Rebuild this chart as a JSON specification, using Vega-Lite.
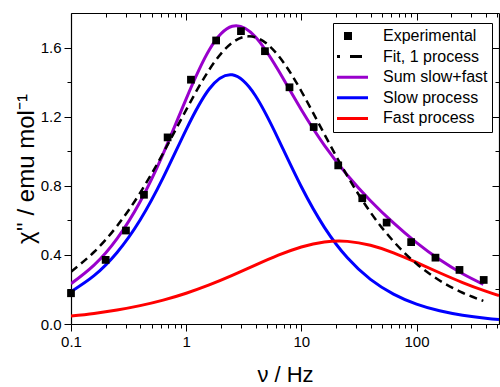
{
  "$schema": "https://vega.github.io/schema/vega-lite/v6.json",
  "width": 428,
  "height": 311,
  "autosize": {"type": "none"},
  "padding": {"left": 71, "top": 13, "right": 1, "bottom": 63},
  "background": "white",
  "config": {
    "view": {"stroke": null},
    "font": "Liberation Sans",
    "axis": {
      "domainColor": "black", "domainWidth": 1.2, "tickColor": "black", "tickWidth": 1,
      "labelColor": "black", "labelFont": "Liberation Sans", "labelFontSize": 15,
      "titleColor": "black", "titleFont": "Liberation Sans", "titleFontSize": 22, "titleFontWeight": "normal",
      "grid": false, "labelFlush": false, "labelOverlap": false
    }
  },
  "datasets": {
    "exp": [
      {"f": 0.1, "chi": 0.178, "series": "Experimental"},
      {"f": 0.2, "chi": 0.371, "series": "Experimental"},
      {"f": 0.3, "chi": 0.541, "series": "Experimental"},
      {"f": 0.43, "chi": 0.748, "series": "Experimental"},
      {"f": 0.69, "chi": 1.08, "series": "Experimental"},
      {"f": 1.1, "chi": 1.414, "series": "Experimental"},
      {"f": 1.82, "chi": 1.641, "series": "Experimental"},
      {"f": 2.99, "chi": 1.695, "series": "Experimental"},
      {"f": 4.83, "chi": 1.579, "series": "Experimental"},
      {"f": 7.89, "chi": 1.37, "series": "Experimental"},
      {"f": 12.8, "chi": 1.14, "series": "Experimental"},
      {"f": 20.9, "chi": 0.918, "series": "Experimental"},
      {"f": 33.8, "chi": 0.728, "series": "Experimental"},
      {"f": 55, "chi": 0.587, "series": "Experimental"},
      {"f": 89.8, "chi": 0.474, "series": "Experimental"},
      {"f": 146, "chi": 0.384, "series": "Experimental"},
      {"f": 236, "chi": 0.313, "series": "Experimental"},
      {"f": 383, "chi": 0.255, "series": "Experimental"}
    ],
    "fit": [
      {"f": 0.1, "chi": 0.3024, "series": "Fit, 1 process"},
      {"f": 0.1585, "chi": 0.4166, "series": "Fit, 1 process"},
      {"f": 0.2512, "chi": 0.5674, "series": "Fit, 1 process"},
      {"f": 0.3981, "chi": 0.7589, "series": "Fit, 1 process"},
      {"f": 0.631, "chi": 0.9887, "series": "Fit, 1 process"},
      {"f": 1, "chi": 1.2394, "series": "Fit, 1 process"},
      {"f": 1.585, "chi": 1.4715, "series": "Fit, 1 process"},
      {"f": 2.512, "chi": 1.6284, "series": "Fit, 1 process"},
      {"f": 3.981, "chi": 1.6594, "series": "Fit, 1 process"},
      {"f": 6.31, "chi": 1.5535, "series": "Fit, 1 process"},
      {"f": 10, "chi": 1.3471, "series": "Fit, 1 process"},
      {"f": 15.85, "chi": 1.0985, "series": "Fit, 1 process"},
      {"f": 25.12, "chi": 0.8561, "series": "Fit, 1 process"},
      {"f": 39.81, "chi": 0.6467, "series": "Fit, 1 process"},
      {"f": 63.1, "chi": 0.4782, "series": "Fit, 1 process"},
      {"f": 100, "chi": 0.3488, "series": "Fit, 1 process"},
      {"f": 158.5, "chi": 0.2519, "series": "Fit, 1 process"},
      {"f": 251.2, "chi": 0.1808, "series": "Fit, 1 process"},
      {"f": 380.2, "chi": 0.1337, "series": "Fit, 1 process"}
    ],
    "curves": [
      {"f": 0.1, "chi": 0.1871, "series": "Slow process"},
      {"f": 0.1585, "chi": 0.2796, "series": "Slow process"},
      {"f": 0.2512, "chi": 0.4137, "series": "Slow process"},
      {"f": 0.3981, "chi": 0.6015, "series": "Slow process"},
      {"f": 0.631, "chi": 0.8468, "series": "Slow process"},
      {"f": 1, "chi": 1.1251, "series": "Slow process"},
      {"f": 1.585, "chi": 1.3601, "series": "Slow process"},
      {"f": 2.512, "chi": 1.442, "series": "Slow process"},
      {"f": 3.981, "chi": 1.3223, "series": "Slow process"},
      {"f": 6.31, "chi": 1.0702, "series": "Slow process"},
      {"f": 10, "chi": 0.7942, "series": "Slow process"},
      {"f": 15.85, "chi": 0.5596, "series": "Slow process"},
      {"f": 25.12, "chi": 0.3832, "series": "Slow process"},
      {"f": 39.81, "chi": 0.2583, "series": "Slow process"},
      {"f": 63.1, "chi": 0.1731, "series": "Slow process"},
      {"f": 100, "chi": 0.1149, "series": "Slow process"},
      {"f": 158.5, "chi": 0.0762, "series": "Slow process"},
      {"f": 251.2, "chi": 0.0506, "series": "Slow process"},
      {"f": 398.1, "chi": 0.0334, "series": "Slow process"},
      {"f": 520, "chi": 0.0262, "series": "Slow process"},
      {"f": 0.1, "chi": 0.0462, "series": "Fast process"},
      {"f": 0.1585, "chi": 0.0613, "series": "Fast process"},
      {"f": 0.2512, "chi": 0.0809, "series": "Fast process"},
      {"f": 0.3981, "chi": 0.1062, "series": "Fast process"},
      {"f": 0.631, "chi": 0.1383, "series": "Fast process"},
      {"f": 1, "chi": 0.1782, "series": "Fast process"},
      {"f": 1.585, "chi": 0.2261, "series": "Fast process"},
      {"f": 2.512, "chi": 0.2812, "series": "Fast process"},
      {"f": 3.981, "chi": 0.3404, "series": "Fast process"},
      {"f": 6.31, "chi": 0.3981, "series": "Fast process"},
      {"f": 10, "chi": 0.4458, "series": "Fast process"},
      {"f": 15.85, "chi": 0.4746, "series": "Fast process"},
      {"f": 25.12, "chi": 0.4782, "series": "Fast process"},
      {"f": 39.81, "chi": 0.4555, "series": "Fast process"},
      {"f": 63.1, "chi": 0.412, "series": "Fast process"},
      {"f": 100, "chi": 0.3561, "series": "Fast process"},
      {"f": 158.5, "chi": 0.2966, "series": "Fast process"},
      {"f": 251.2, "chi": 0.24, "series": "Fast process"},
      {"f": 398.1, "chi": 0.19, "series": "Fast process"},
      {"f": 520, "chi": 0.164, "series": "Fast process"},
      {"f": 0.1, "chi": 0.2333, "series": "Sum slow+fast"},
      {"f": 0.1585, "chi": 0.3409, "series": "Sum slow+fast"},
      {"f": 0.2512, "chi": 0.4946, "series": "Sum slow+fast"},
      {"f": 0.3981, "chi": 0.7077, "series": "Sum slow+fast"},
      {"f": 0.631, "chi": 0.9851, "series": "Sum slow+fast"},
      {"f": 1, "chi": 1.3033, "series": "Sum slow+fast"},
      {"f": 1.585, "chi": 1.5862, "series": "Sum slow+fast"},
      {"f": 2.512, "chi": 1.7232, "series": "Sum slow+fast"},
      {"f": 3.981, "chi": 1.6627, "series": "Sum slow+fast"},
      {"f": 6.31, "chi": 1.4683, "series": "Sum slow+fast"},
      {"f": 10, "chi": 1.24, "series": "Sum slow+fast"},
      {"f": 15.85, "chi": 1.0342, "series": "Sum slow+fast"},
      {"f": 25.12, "chi": 0.8614, "series": "Sum slow+fast"},
      {"f": 39.81, "chi": 0.7138, "series": "Sum slow+fast"},
      {"f": 63.1, "chi": 0.5851, "series": "Sum slow+fast"},
      {"f": 100, "chi": 0.471, "series": "Sum slow+fast"},
      {"f": 158.5, "chi": 0.3728, "series": "Sum slow+fast"},
      {"f": 251.2, "chi": 0.2906, "series": "Sum slow+fast"},
      {"f": 380.2, "chi": 0.2295, "series": "Sum slow+fast"}
    ]
  },
  "resolve": {"axis": {"x": "independent", "y": "independent"}},
  "layer": [
    {
      "data": {"name": "curves"},
      "mark": {"type": "line", "strokeWidth": 3, "interpolate": "natural", "clip": true},
      "encoding": {
        "x": {
          "field": "f", "type": "quantitative",
          "scale": {"type": "log", "domain": [0.1, 520], "nice": false},
          "axis": {
            "orient": "bottom", "title": "ν / Hz",
            "values": [0.1,0.2,0.3,0.4,0.5,0.6,0.7,0.8,0.9,1,2,3,4,5,6,7,8,9,10,20,30,40,50,60,70,80,90,100,200,300,400,500],
            "labelExpr": "datum.value == 0.1 ? '0.1' : datum.value == 1 ? '1' : datum.value == 10 ? '10' : datum.value == 100 ? '100' : ''",
            "tickSize": {"condition": {"test": "datum.value == 0.1 || datum.value == 1 || datum.value == 10 || datum.value == 100", "value": 7}, "value": 4},
            "labelPadding": 3, "titlePadding": 15
          }
        },
        "y": {
          "field": "chi", "type": "quantitative",
          "scale": {"domain": [0, 1.8], "nice": false, "zero": false},
          "axis": {
            "orient": "left", "title": "χ'' / emu mol⁻¹", "titleFontSize": 24,
            "values": [0,0.2,0.4,0.6,0.8,1.0,1.2,1.4,1.6],
            "labelExpr": "abs(datum.value*2.5 - round(datum.value*2.5)) < 0.001 ? format(datum.value, '.1f') : ''",
            "tickSize": {"condition": {"test": "abs(datum.value*2.5 - round(datum.value*2.5)) < 0.001", "value": 7}, "value": 4},
            "labelPadding": 3, "titlePadding": 2
          }
        },
        "color": {
          "field": "series", "type": "nominal",
          "scale": {
            "domain": ["Experimental", "Fit, 1 process", "Sum slow+fast", "Slow process", "Fast process"],
            "range": ["#000000", "#000000", "#9900CC", "#0000FF", "#FF0000"]
          },
          "legend": {
            "orient": "none", "legendX": 262, "legendY": 10, "title": null,
            "strokeColor": "black", "fillColor": "white", "padding": 4,
            "labelFont": "Liberation Sans", "labelFontSize": 16, "labelColor": "black",
            "labelOffset": 27, "symbolOffset": 3, "rowPadding": 2.6, "clipHeight": 18,
            "symbolType": {"expr": "datum.value === 'Experimental' ? 'square' : 'stroke'"},
            "symbolSize": {"expr": "datum.value === 'Experimental' ? 64 : 1600"},
            "symbolStrokeWidth": {"expr": "datum.value === 'Experimental' ? 0 : 3"},
            "symbolDash": {"expr": "datum.value === 'Fit, 1 process' ? [12,10] : [1,0]"},
            "symbolFillColor": {"expr": "datum.value === 'Experimental' ? 'black' : 'transparent'"},
            "symbolOpacity": 1
          }
        }
      }
    },
    {
      "data": {"name": "fit"},
      "mark": {"type": "line", "strokeWidth": 2.5, "strokeDash": [8, 5], "interpolate": "natural", "clip": true},
      "encoding": {
        "x": {
          "field": "f", "type": "quantitative",
          "axis": {
            "orient": "top", "title": null, "labels": false,
            "values": [0.1,0.2,0.3,0.4,0.5,0.6,0.7,0.8,0.9,1,2,3,4,5,6,7,8,9,10,20,30,40,50,60,70,80,90,100,200,300,400,500],
            "tickSize": {"condition": {"test": "datum.value == 0.1 || datum.value == 1 || datum.value == 10 || datum.value == 100", "value": -7}, "value": -4}
          }
        },
        "y": {
          "field": "chi", "type": "quantitative",
          "axis": {
            "orient": "right", "title": null, "labels": false,
            "values": [0,0.2,0.4,0.6,0.8,1.0,1.2,1.4,1.6],
            "tickSize": {"condition": {"test": "abs(datum.value*2.5 - round(datum.value*2.5)) < 0.001", "value": -7}, "value": -4}
          }
        },
        "color": {"field": "series", "type": "nominal"}
      }
    },
    {
      "data": {"name": "exp"},
      "mark": {"type": "point", "shape": "square", "filled": true, "size": 60, "opacity": 1},
      "encoding": {
        "x": {"field": "f", "type": "quantitative", "axis": null},
        "y": {"field": "chi", "type": "quantitative", "axis": null},
        "color": {"field": "series", "type": "nominal"}
      }
    }
  ]
}
